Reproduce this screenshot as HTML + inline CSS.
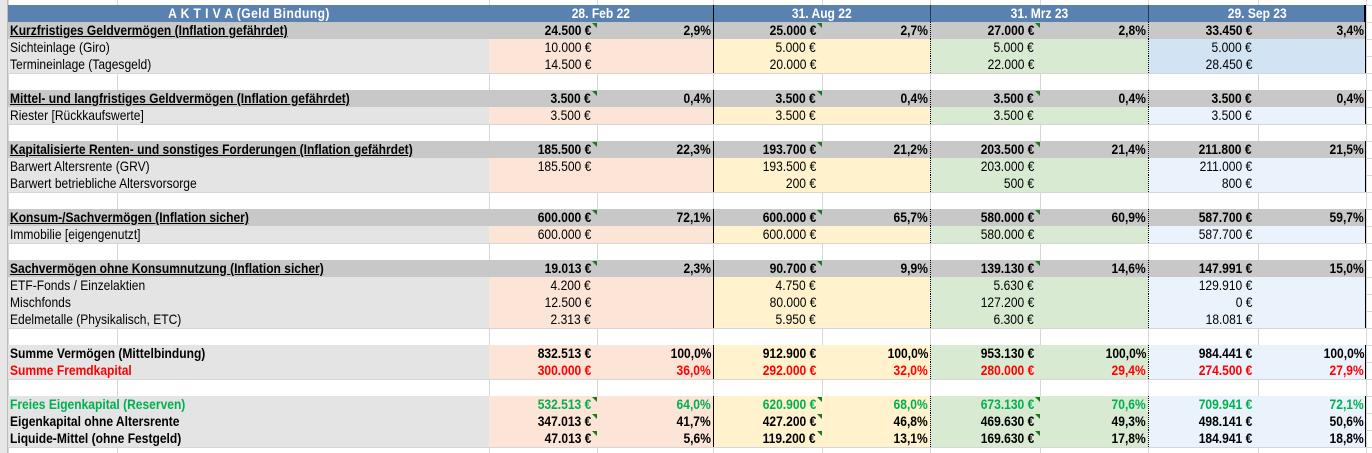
<!DOCTYPE html>
<html><head><meta charset="utf-8">
<style>
html,body{margin:0;padding:0;background:#fff;}
#sheet{position:relative;width:1372px;height:453px;overflow:hidden;background:#fff;
 font-family:"Liberation Sans Narrow","Liberation Sans",sans-serif;font-size:14px;color:#000;}
.c{position:absolute;box-sizing:border-box;white-space:nowrap;overflow:visible;line-height:17px;height:17px;}
.c span{display:inline-block;transform:scaleX(0.86);transform-origin:left center;}
.r{text-align:right;}
.r span{transform-origin:right center;}
.ctr span{transform-origin:center center;}
.b{font-weight:bold;}
.u span{text-decoration:underline;}
.tri{position:absolute;width:0;height:0;border-top:5px solid #1a7a1a;border-left:5px solid transparent;}
.gl{position:absolute;background:#d6d6d6;}
</style></head><body>
<div id="sheet"></div>
<script>
const periods = ["28. Feb 22","31. Aug 22","31. Mrz 23","29. Sep 23"];
// row kinds: h header, s section, i item, x blank, t total
const rowKinds = ["h","s","i","i","x","s","i","x","s","i","i","x","s","i","x","s","i","i","i","x","t","t","x","t","t","t"];
const rowLabels = ["A K T I V A (Geld Bindung)","Kurzfristiges Geldvermögen (Inflation gefährdet)","Sichteinlage (Giro)","Termineinlage (Tagesgeld)","",
"Mittel- und langfristiges Geldvermögen  (Inflation gefährdet)","Riester [Rückkaufswerte]","",
"Kapitalisierte Renten- und sonstiges Forderungen  (Inflation gefährdet)","Barwert Altersrente (GRV)","Barwert betriebliche Altersvorsorge","",
"Konsum-/Sachvermögen (Inflation sicher)","Immobilie [eigengenutzt]","",
"Sachvermögen ohne Konsumnutzung (Inflation sicher)","ETF-Fonds / Einzelaktien","Mischfonds","Edelmetalle (Physikalisch, ETC)","",
"Summe Vermögen (Mittelbindung)","Summe Fremdkapital","","Freies Eigenkapital (Reserven)","Eigenkapital ohne Altersrente","Liquide-Mittel (ohne Festgeld)"];
const valsP1 = ["","24.500","10.000","14.500","","3.500","3.500","","185.500","185.500","","","600.000","600.000","","19.013","4.200","12.500","2.313","","832.513","300.000","","532.513","347.013","47.013"];
const valsP2 = ["","25.000","5.000","20.000","","3.500","3.500","","193.700","193.500","200","","600.000","600.000","","90.700","4.750","80.000","5.950","","912.900","292.000","","620.900","427.200","119.200"];
const valsP3 = ["","27.000","5.000","22.000","","3.500","3.500","","203.500","203.000","500","","580.000","580.000","","139.130","5.630","127.200","6.300","","953.130","280.000","","673.130","469.630","169.630"];
const valsP4 = ["","33.450","5.000","28.450","","3.500","3.500","","211.800","211.000","800","","587.700","587.700","","147.991","129.910","0","18.081","","984.441","274.500","","709.941","498.141","184.941"];
const pctP1 = ["","2,9","","","","0,4","","","22,3","","","","72,1","","","2,3","","","","","100,0","36,0","","64,0","41,7","5,6"];
const pctP2 = ["","2,7","","","","0,4","","","21,2","","","","65,7","","","9,9","","","","","100,0","32,0","","68,0","46,8","13,1"];
const pctP3 = ["","2,8","","","","0,4","","","21,4","","","","60,9","","","14,6","","","","","100,0","29,4","","70,6","49,3","17,8"];
const pctP4 = ["","3,4","","","","0,4","","","21,5","","","","59,7","","","15,0","","","","","100,0","27,9","","72,1","50,6","18,8"];
const rowColor = ["","","","","","","","","","","","","","","","","","","","","#000","#ff0000","","#00b050","#000","#000"];
const triRows = [1,5,8,12,15,23,24,25];

const vals=[valsP1,valsP2,valsP3,valsP4], pcts=[pctP1,pctP2,pctP3,pctP4];
const colX=[[489,597],[713,822],[930,1040],[1148,1258]], colEnd=[597,713,822,930,1040,1148,1258,1366];
const fills=["#fce4d6","#fff2cc","#d9ead3","#eaf2fb"];
const sheet=document.getElementById('sheet');
const ROW0=5, RH=17;
function mk(cls,x,y,w,txt,name){
 const d=document.createElement('div');d.className='c '+cls;
 d.style.left=x+'px';d.style.top=y+'px';d.style.width=w+'px';
 if(txt!==undefined){const s=document.createElement('span');s.textContent=txt;d.appendChild(s);}
 
 
 sheet.appendChild(d);return d;
}
[8,117,489,597,713,822,930,1040,1148,1258,1366].forEach(x=>{const g=document.createElement('div');g.className='gl';g.style.left=x+'px';g.style.top='0';g.style.width='1px';g.style.height='453px';sheet.appendChild(g);});
for(let y=ROW0;y<=453;y+=RH){const g=document.createElement('div');g.className='gl';g.style.left='0';g.style.top=y+'px';g.style.width='1372px';g.style.height='1px';sheet.appendChild(g);}
const rn=mk('',0,0,8,undefined,'row-header-strip');rn.style.height='453px';rn.style.background='#e6e6e6';rn.style.borderRight='1px solid #bbb';

rowKinds.forEach((k,i)=>{
 const y=ROW0+i*RH;
 if(k==='x')return;
 if(k==='h'){
  const h=mk('b',8,y,1358,undefined,'header-row');h.style.background='#5a82b0';h.style.borderRight='2px solid #000';
  const t=mk('b ctr',8,y,481,rowLabels[0],'header-title');t.style.color='#fff';t.style.textAlign='center';t.style.letterSpacing='0.5px';
  periods.forEach((p,j)=>{const d=mk('b ctr',colX[j][0],y,colEnd[2*j+1]-colX[j][0],p,'period-header');d.style.color='#fff';d.style.textAlign='center';
   if(j>0){d.style.borderLeft=j===1?'1px solid #000':'1px solid #2a3a50';}});
  return;
 }
 const bold=(k==='s'||k==='t');
 const color=rowColor[i]||'#000';
 const lb=mk((bold?'b ':'')+(k==='s'?'u':''),8,y,481,rowLabels[i],'row-label');
 lb.style.paddingLeft='2px';lb.style.color=color;
 lb.style.background=k==='s'?'#c8c8c8':'#e4e4e4';
 for(let j=0;j<4;j++){
  let bg=k==='s'?'#c8c8c8':fills[j];
  if(j===3&&(i===2||i===3))bg='#d2e3f4';
  const w=colEnd[2*j+1]-colX[j][0];
  const blk=mk('',colX[j][0],y,w,undefined,'period-block');blk.style.background=bg;
  if(j===1)blk.style.borderLeft='1px solid #000';
  if(j===2||j===3)blk.style.borderLeft='1px dotted #000';
  if(j===3)blk.style.borderRight='1px solid #000';
  const v=vals[j][i];
  if(v!==''){const d=mk('r'+(bold?' b':''),colX[j][0],y,colX[j][1]-colX[j][0]-6,v+' €','value-cell');d.style.color=color;}
  const p=pcts[j][i];
  if(p!==''){const d=mk('r'+(bold?' b':''),colX[j][1],y,colEnd[2*j+1]-colX[j][1]-2,p+'%','percent-cell');d.style.color=color;}
  if(j<3&&triRows.includes(i)){const t=document.createElement('div');t.className='tri';t.style.left=(colX[j][1]-5)+'px';t.style.top=(y+1)+'px';
   
   
   sheet.appendChild(t);}
 }
});
</script>
</body></html>
